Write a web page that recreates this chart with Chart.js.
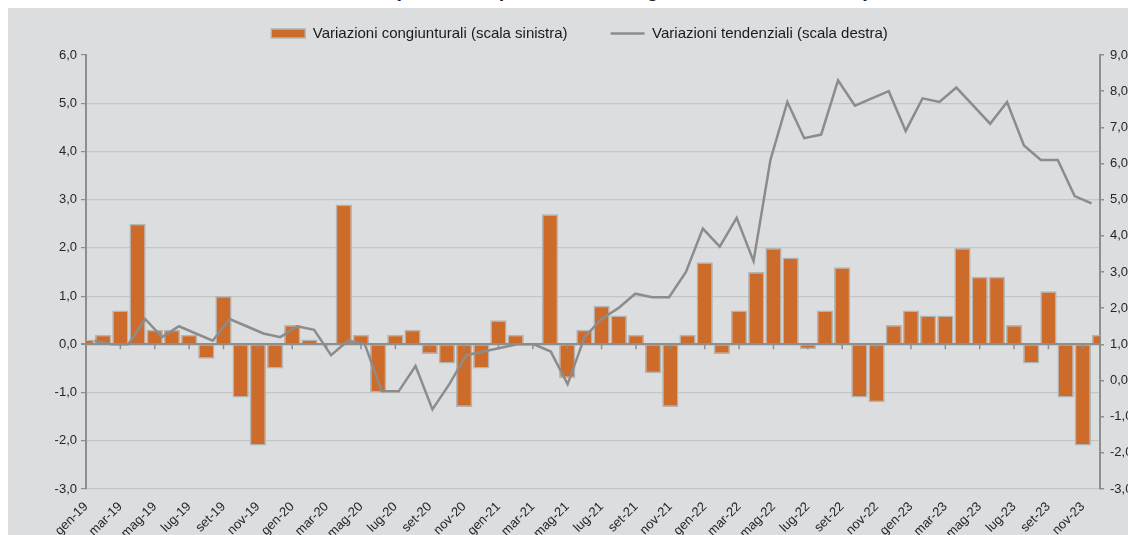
<!DOCTYPE html>
<html>
<head>
<meta charset="utf-8">
<script src="https://cdn.jsdelivr.net/npm/chart.js@4.4.1/dist/chart.umd.min.js"></script>
<style>
  html, body { margin: 0; padding: 0; background: #fff; overflow: hidden; width: 1128px; height: 535px; }
  #title { position: absolute; left: 0; top: -20px; width: 1264px; text-align: center; font: bold 20px 'Liberation Sans', Arial, sans-serif; line-height: 20px; color: #222; white-space: nowrap; }
  #panel { position: absolute; left: 8px; top: 8px; width: 1143px; height: 560px; background: #dcdddf; }
</style>
</head>
<body>
<div id="title">(variazioni percentuali congiunturali e tendenziali)</div>
<div id="panel"><canvas id="chart"></canvas></div>
<script>
let months = ['gen', 'feb', 'mar', 'apr', 'mag', 'giu', 'lug', 'ago', 'set', 'ott', 'nov', 'dic'];
let years = ['19', '20', '21', '22', '23'];
let labels = [];
years.forEach(y => months.forEach(m => labels.push(m + '-' + y)));

// variazioni congiunturali (scala sinistra)
let congiunturali = [
  0.1, 0.2, 0.7, 2.5, 0.3, 0.3, 0.2, -0.3, 1.0, -1.1, -2.1, -0.5,
  0.4, 0.1, 0.0, 2.9, 0.2, -1.0, 0.2, 0.3, -0.2, -0.4, -1.3, -0.5,
  0.5, 0.2, 0.0, 2.7, -0.7, 0.3, 0.8, 0.6, 0.2, -0.6, -1.3, 0.2,
  1.7, -0.2, 0.7, 1.5, 2.0, 1.8, -0.1, 0.7, 1.6, -1.1, -1.2, 0.4,
  0.7, 0.6, 0.6, 2.0, 1.4, 1.4, 0.4, -0.4, 1.1, -1.1, -2.1, 0.2
];

// variazioni tendenziali (scala destra)
let tendenziali = [
  1.1, 1.0, 1.0, 1.7, 1.2, 1.5, 1.3, 1.1, 1.7, 1.5, 1.3, 1.2,
  1.5, 1.4, 0.7, 1.1, 1.0, -0.3, -0.3, 0.4, -0.8, -0.1, 0.7, 0.8,
  0.9, 1.0, 1.0, 0.8, -0.1, 1.2, 1.7, 2.0, 2.4, 2.3, 2.3, 3.0,
  4.2, 3.7, 4.5, 3.3, 6.1, 7.7, 6.7, 6.8, 8.3, 7.6, 7.8, 8.0,
  6.9, 7.8, 7.7, 8.1, 7.6, 7.1, 7.7, 6.5, 6.1, 6.1, 5.1, 4.9
];

let orange = '#cd6b2b';
let barBorder = '#b4b4b4';
let lineGrey = '#8c8c8c';
let axisGrey = '#8e8e8e';
let gridGrey = '#c4c5c7';

Chart.defaults.font.family = "'Liberation Sans', Arial, sans-serif";
Chart.defaults.font.size = 13;
Chart.defaults.color = '#262626';

let comma = (v, d) => v.toFixed(d).replace('.', ',');

// zero line and small x tick marks drawn over the bars
let zeroAxis = {
  id: 'zeroAxis',
  afterDatasetDraw(chart, args) {
    if (args.index !== 0) return;
    let x = chart.scales.x;
    let y0 = chart.scales.y.getPixelForValue(0);
    let ctx = chart.ctx;
    ctx.save();
    ctx.strokeStyle = axisGrey;
    ctx.lineWidth = 2;
    ctx.beginPath();
    ctx.moveTo(chart.chartArea.left, y0);
    ctx.lineTo(chart.chartArea.right, y0);
    ctx.stroke();
    ctx.lineWidth = 1.5;
    ctx.beginPath();
    for (let i = 2; i < labels.length; i += 2) {
      let px = x.getPixelForTick(i);
      ctx.moveTo(px, y0);
      ctx.lineTo(px, y0 + 5);
    }
    ctx.stroke();
    ctx.restore();
  }
};

// fixed legend height so the plot area starts where the original does
let legendHeight = {
  id: 'legendHeight',
  beforeInit(chart) {
    let legend = chart.legend;
    let fit = legend.fit.bind(legend);
    legend.fit = function() {
      fit();
      this.height = 72;
    };
  }
};

new Chart('chart', {
  type: 'bar',
  data: {
    labels: labels,
    datasets: [{
      type: 'bar',
      label: 'Variazioni congiunturali (scala sinistra)',
      data: congiunturali,
      backgroundColor: orange,
      borderColor: barBorder,
      borderWidth: 1.5,
      barPercentage: 0.95,
      categoryPercentage: 1,
      grouped: false,
      clip: 0,
      order: 1,
      xAxisID: 'x',
      yAxisID: 'y'
    }, {
      type: 'line',
      label: 'Variazioni tendenziali (scala destra)',
      data: tendenziali,
      borderColor: lineGrey,
      borderWidth: 2.5,
      pointRadius: 0,
      tension: 0,
      order: 0,
      xAxisID: 'x2',
      yAxisID: 'y2'
    }]
  },
  options: {
    responsive: true,
    maintainAspectRatio: false,
    animation: false,
    events: [],
    layout: { padding: { top: -25, left: 0, right: 0, bottom: 0 } },
    scales: {
      x: {
        type: 'category',
        offset: false,
        grid: { display: false, offset: false },
        border: { display: false },
        ticks: {
          autoSkip: false,
          maxRotation: 45,
          minRotation: 45,
          padding: 2,
          callback: (v, i) => i % 2 === 0 ? labels[i] : ''
        },
        afterFit: s => { s.height = 79; }
      },
      x2: {
        type: 'category',
        offset: true,
        display: false
      },
      y: {
        position: 'left',
        min: -3,
        max: 6,
        ticks: { stepSize: 1, padding: 4, callback: v => comma(v, 1) },
        grid: {
          color: c => c.tick.value === 6 ? 'rgba(0,0,0,0)' : (c.tick.value === 0 ? axisGrey : gridGrey),
          lineWidth: c => c.tick.value === 0 ? 2 : 1.2,
          tickColor: axisGrey,
          tickLength: 5
        },
        border: { display: true, color: axisGrey, width: 2 },
        afterFit: s => { s.width = 78; }
      },
      y2: {
        position: 'right',
        min: -3,
        max: 9,
        ticks: { stepSize: 1, padding: 6, callback: v => comma(v, 2) },
        grid: { drawOnChartArea: false, tickColor: axisGrey, tickLength: 4, lineWidth: 1.5 },
        border: { display: true, color: axisGrey, width: 2 },
        afterFit: s => { s.width = 51; }
      }
    },
    plugins: {
      tooltip: { enabled: false },
      legend: {
        display: true,
        position: 'top',
        labels: {
          usePointStyle: true,
          pointStyleWidth: 34,
          boxHeight: 9,
          padding: 43,
          color: '#1a1a1a',
          font: { size: 15 },
          sort: (a, b) => a.datasetIndex - b.datasetIndex,
          generateLabels: chart => {
            let items = Chart.defaults.plugins.legend.labels.generateLabels(chart);
            items.forEach(it => { it.pointStyle = it.datasetIndex === 0 ? 'rect' : 'line'; });
            return items;
          }
        }
      }
    }
  },
  plugins: [zeroAxis, legendHeight]
});
</script>
</body>
</html>
